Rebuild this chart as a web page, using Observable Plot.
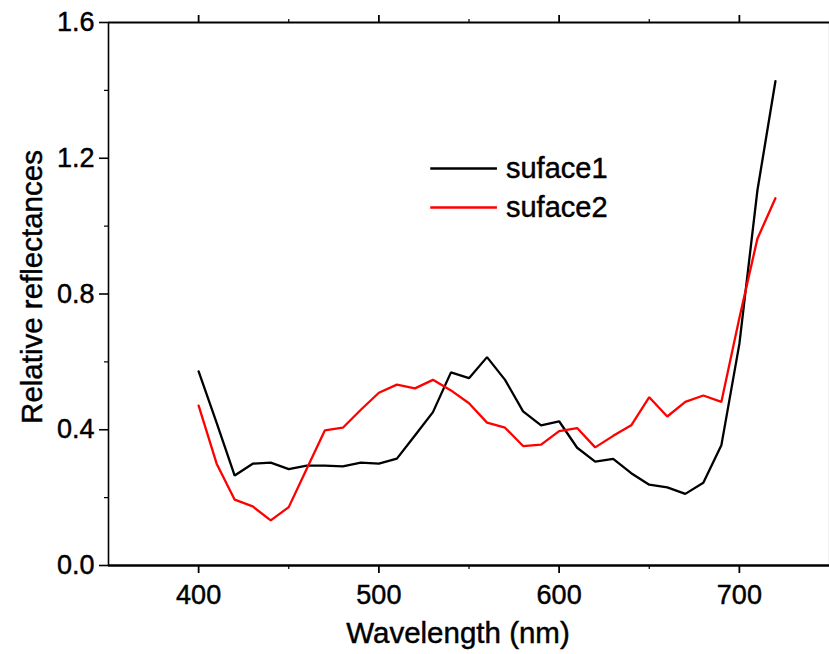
<!DOCTYPE html>
<html>
<head>
<meta charset="utf-8">
<script src="https://cdn.jsdelivr.net/npm/d3@7"></script>
<script src="https://cdn.jsdelivr.net/npm/@observablehq/plot@0.6"></script>
<style>
  html, body { margin: 0; padding: 0; background: #fff; overflow: hidden; }
  svg { display: block; }
  svg text { stroke: #000; stroke-width: 0.45px; }
</style>
</head>
<body>
<div id="chart"></div>
<script>
const wavelengths = [400,410,420,430,440,450,460,470,480,490,500,510,520,530,540,550,560,570,580,590,600,610,620,630,640,650,660,670,680,690,700,710,720];
const surface1 = [0.572,0.42,0.265,0.300,0.303,0.284,0.294,0.294,0.292,0.303,0.300,0.315,0.383,0.452,0.569,0.552,0.614,0.547,0.454,0.413,0.425,0.347,0.306,0.314,0.272,0.238,0.230,0.211,0.244,0.354,0.653,1.105,1.427];
const surface2 = [0.471,0.300,0.194,0.174,0.133,0.172,0.285,0.398,0.406,0.459,0.509,0.533,0.522,0.547,0.516,0.478,0.421,0.406,0.352,0.356,0.396,0.405,0.348,0.382,0.413,0.496,0.439,0.482,0.501,0.482,0.729,0.963,1.082];
const seriesNames = ["suface1", "suface2"];
const seriesColors = ["#000000", "#ff0000"];
const xMajorTicks = [400, 500, 600, 700];
const xMinorTicks = [450, 550, 650];
const yMajorTicks = [0.0, 0.4, 0.8, 1.2, 1.6];
const yMinorTicks = [0.2, 0.6, 1.0, 1.4];
const xLabel = "Wavelength (nm)";
const yLabel = "Relative reflectances";
// legend anchor (data units)
const legendX0 = [528.5, 528.5];
const legendX1 = [565.5, 565.5];
const legendTextX = [570.5, 570.5];
const legendY = [1.17, 1.055];

const rows = [];
wavelengths.forEach((w, i) => {
  rows.push({w, v: surface1[i], s: seriesNames[0]});
  rows.push({w, v: surface2[i], s: seriesNames[1]});
});
const legendRows = seriesNames.map((s, i) => ({s, x0: legendX0[i], x1: legendX1[i], tx: legendTextX[i], y: legendY[i], c: seriesColors[i]}));

const font = "'Liberation Sans', Arial, sans-serif";
const tickFs = 27;
const titleFs = 29.5;
const legendFs = 29;

const chart = Plot.plot({
  width: 829,
  height: 654,
  marginLeft: 108,
  marginRight: 0,
  marginTop: 22,
  marginBottom: 89,
  style: {fontFamily: font, background: "#fff", overflow: "visible"},
  x: {domain: [350, 750]},
  y: {domain: [0, 1.6]},
  color: {domain: seriesNames, range: seriesColors},
  marks: [
    // frame
    Plot.ruleX([750], {stroke: "#c8c8c8", strokeWidth: 1.5}),
    Plot.ruleX([350], {stroke: "#000", strokeWidth: 1.6}),
    Plot.ruleY([1.6], {stroke: "#000", strokeWidth: 2}),
    Plot.ruleY([0], {stroke: "#000", strokeWidth: 2.4}),
    // axes
    Plot.axisX({anchor: "bottom", ticks: xMajorTicks, tickSize: 8, tickPadding: 11, tickFormat: d => d, fontSize: tickFs, label: null, strokeWidth: 1.8, color: "#000"}),
    Plot.axisX({anchor: "bottom", ticks: xMinorTicks, tickSize: 4, tickFormat: () => "", label: null, strokeWidth: 1.2}),
    Plot.axisX({anchor: "top", ticks: xMajorTicks, tickSize: 8, tickFormat: () => "", label: null, strokeWidth: 1.8}),
    Plot.axisX({anchor: "top", ticks: xMinorTicks, tickSize: 4, tickFormat: () => "", label: null, strokeWidth: 1.2}),
    Plot.axisY({anchor: "left", ticks: yMajorTicks, tickSize: 9, tickPadding: 5, tickFormat: d3.format(".1f"), fontSize: tickFs, label: null, strokeWidth: 1.6}),
    Plot.axisY({anchor: "left", ticks: yMinorTicks, tickSize: 4, tickFormat: () => "", label: null, strokeWidth: 1.2}),
    // axis titles
    Plot.text([xLabel], {frameAnchor: "bottom", textAnchor: "middle", dx: -11, dy: 77, fontSize: titleFs, fill: "#000"}),
    Plot.text([yLabel], {frameAnchor: "left", textAnchor: "middle", dx: -76, dy: -7, rotate: -90, fontSize: titleFs, fill: "#000"}),
    // data
    Plot.line(rows, {x: "w", y: "v", z: "s", stroke: "s", strokeWidth: 2.3, strokeLinejoin: "miter"}),
    // legend
    Plot.link(legendRows, {x1: "x0", x2: "x1", y1: "y", y2: "y", stroke: "c", strokeWidth: 2.5}),
    Plot.text(legendRows, {x: "tx", y: "y", text: "s", textAnchor: "start", fontSize: legendFs, fill: "#000"})
  ]
});
document.getElementById("chart").appendChild(chart);
</script>
</body>
</html>
